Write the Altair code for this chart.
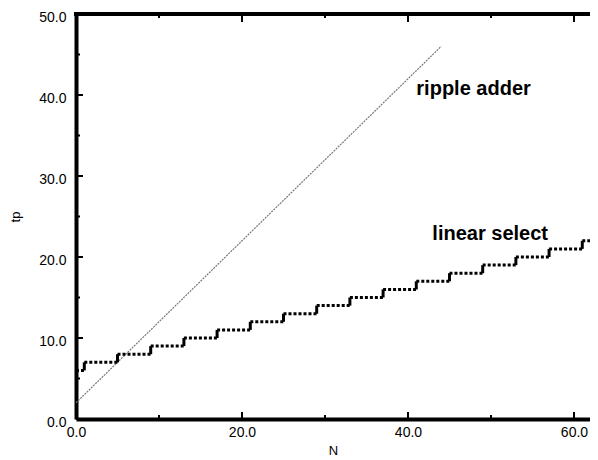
import altair as alt
import pandas as pd

# ---- data ----
ripple_n = [0, 44]
ripple_tp = [2, 46]

step_n = [0, 1, 5, 9, 13, 17, 21, 25, 29, 33, 37, 41, 45, 49, 53, 57, 61]
step_tp = [6, 7, 8, 9, 10, 11, 12, 13, 14, 15, 16, 17, 18, 19, 20, 21, 22]
x_max = 61.93

x_major = [0, 20, 40, 60]
x_minor = [10, 30, 50]
y_major = [0, 10, 20, 30, 40, 50]
y_minor = [5, 15, 25, 35, 45]

labels = ["ripple adder", "linear select"]
label_n = [47.9, 49.9]
label_tp = [40.0, 22.1]

W, H = 514, 405

# ---- tables ----
ripple = pd.DataFrame({"N": ripple_n, "tp": ripple_tp})
horiz = pd.DataFrame({
    "N": step_n,
    "N2": step_n[1:] + [x_max],
    "tp": step_tp,
})
vert = pd.DataFrame({
    "N": step_n[1:],
    "tp": step_tp[:-1],
    "tp2": step_tp[1:],
})
lab = pd.DataFrame({"t": labels, "N": label_n, "tp": label_tp})

xs = alt.Scale(domain=[0, x_max], nice=False, zero=False)
ys = alt.Scale(domain=[0, 50], nice=False, zero=False)

xaxis = alt.Axis(values=x_major, format=".1f", ticks=False, grid=False,
                 labelFlush=False,
                 domainWidth=4, domainColor="black", labelFontSize=14,
                 labelPadding=6, labelColor="black", labelFont="Liberation Sans",
                 title="N", titleFontSize=13, titleFontWeight="normal",
                 titleFont="Liberation Sans", titlePadding=5, titleColor="black")
yaxis = alt.Axis(values=y_major, format=".1f", ticks=False, grid=False,
                 labelFlush=False,
                 domainWidth=4, domainColor="black", labelFontSize=14,
                 labelPadding=10, labelColor="black", labelFont="Liberation Sans",
                 labelOffset=3,
                 title="tp", titleFontSize=13, titleFontWeight="normal",
                 titleFont="Liberation Sans", titlePadding=16, titleColor="black")

ripple_line = alt.Chart(ripple).mark_line(
    color="#777", strokeWidth=1.2, strokeDash=[2, 1]
).encode(
    x=alt.X("N:Q", scale=xs, axis=xaxis),
    y=alt.Y("tp:Q", scale=ys, axis=yaxis),
)

h_steps = alt.Chart(horiz).mark_rule(
    color="black", strokeWidth=3, strokeDash=[3, 2]
).encode(
    x=alt.X("N:Q", scale=xs), x2="N2:Q",
    y=alt.Y("tp:Q", scale=ys),
)

v_steps = alt.Chart(vert).mark_rule(color="black", strokeWidth=3).encode(
    x=alt.X("N:Q", scale=xs),
    y=alt.Y("tp:Q", scale=ys), y2="tp2:Q",
)

texts = alt.Chart(lab).mark_text(
    font="Liberation Sans", fontWeight="bold", fontSize=20,
    align="center", baseline="alphabetic", color="black"
).encode(
    x=alt.X("N:Q", scale=xs), y=alt.Y("tp:Q", scale=ys), text="t:N"
)

ymaj = pd.DataFrame({"v": y_major})
ymin = pd.DataFrame({"v": y_minor})
xmaj = pd.DataFrame({"v": x_major})
xmin = pd.DataFrame({"v": x_minor})

y_major_ticks = alt.Chart(ymaj).mark_rule(color="black", strokeWidth=2).encode(
    y=alt.Y("v:Q", scale=ys), x=alt.value(0), x2=alt.value(7))
y_minor_ticks = alt.Chart(ymin).mark_rule(color="black", strokeWidth=2).encode(
    y=alt.Y("v:Q", scale=ys), x=alt.value(0), x2=alt.value(4))
x_major_ticks = alt.Chart(xmaj).mark_rule(color="black", strokeWidth=2).encode(
    x=alt.X("v:Q", scale=xs), y=alt.value(H), y2=alt.value(H - 7))
x_minor_ticks = alt.Chart(xmin).mark_rule(color="black", strokeWidth=2).encode(
    x=alt.X("v:Q", scale=xs), y=alt.value(H), y2=alt.value(H - 4))
xt_major_ticks = alt.Chart(xmaj).mark_rule(color="black", strokeWidth=2).encode(
    x=alt.X("v:Q", scale=xs), y=alt.value(0), y2=alt.value(8))
xt_minor_ticks = alt.Chart(xmin).mark_rule(color="black", strokeWidth=2).encode(
    x=alt.X("v:Q", scale=xs), y=alt.value(0), y2=alt.value(4))

top_frame = alt.Chart(pd.DataFrame({"v": [50]})).mark_rule(
    color="black", strokeWidth=4
).encode(y=alt.Y("v:Q", scale=ys), x=alt.value(-2), x2=alt.value(W))

chart = alt.layer(
    ripple_line, h_steps, v_steps, texts,
    y_major_ticks, y_minor_ticks, x_major_ticks, x_minor_ticks,
    xt_major_ticks, xt_minor_ticks, top_frame,
).properties(
    width=W, height=H,
    autosize=alt.AutoSizeParams(type="none"),
    padding={"left": 68, "top": 6, "right": 0, "bottom": 40},
    background="white",
).configure_view(stroke=None)

chart.save("out.html", embed_options={"renderer": "svg", "actions": False})
